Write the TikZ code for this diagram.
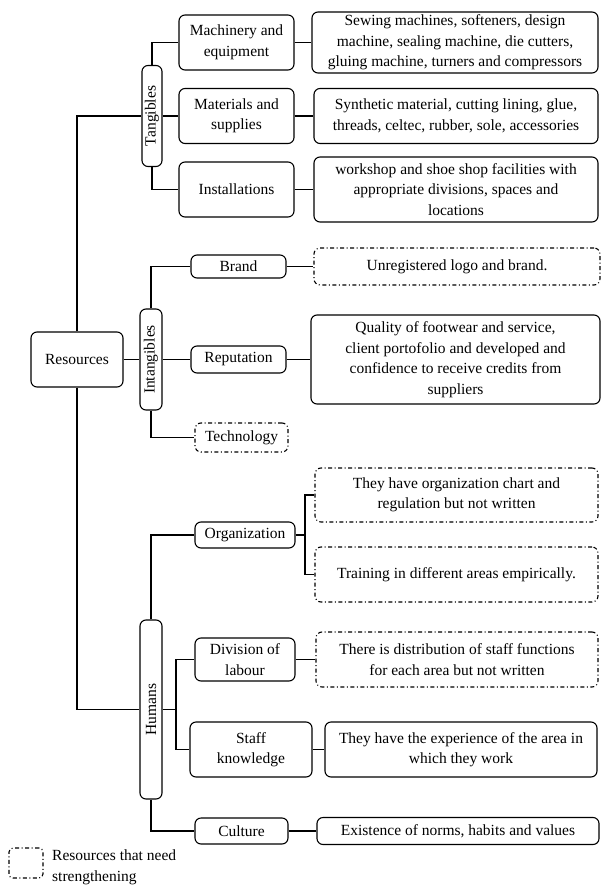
\documentclass[tikz,border=0pt]{standalone}
\usepackage{fontspec}
\setmainfont{Liberation Serif}
\begin{document}
\begin{tikzpicture}[x=1pt,y=-1pt,
  every node/.style={font=\fontsize{15.5}{20.5}\selectfont, inner sep=0pt},
  bx/.style={draw, line width=1.1pt, rounded corners=6pt, align=center},
  dbx/.style={bx, dash pattern=on 4pt off 2.5pt on 1pt off 2.5pt},
  ln/.style={line width=1.1pt}]
\useasboundingbox (0,0) rectangle (601,890);
% root
\node[bx, minimum width=92pt, minimum height=55pt] (res) at (77,359.5) {Resources};
% level 1 boxes
\node[bx, minimum width=20pt, minimum height=101pt] (tang) at (152,116) {};
\node[rotate=90] (tangl) at (tang) {Tangibles};
\node[bx, minimum width=22pt, minimum height=101pt] (intang) at (151,359.5) {};
\node[rotate=90] (intangl) at (intang) {Intangibles};
\node[bx, minimum width=22pt, minimum height=179pt] (hum) at (151,709.5) {};
\node[rotate=90] (huml) at (hum) {Humans};
% tangibles
\node[bx, minimum width=115pt, minimum height=55pt] (mach) at (236.5,42.5) {Machinery and\\equipment};
\node[bx, minimum width=115pt, minimum height=55pt] (mat) at (236.5,116) {Materials and\\supplies};
\node[bx, minimum width=115pt, minimum height=55pt] (inst) at (236.5,189.5) {Installations};
\node[bx, minimum width=286pt, minimum height=61pt] (sew) at (455,42.5) {Sewing machines, softeners, design\\machine, sealing machine, die cutters,\\gluing machine, turners and compressors};
\node[bx, minimum width=284pt, minimum height=55pt] (syn) at (456,116) {Synthetic material, cutting lining, glue,\\threads, celtec, rubber, sole, accessories};
\node[bx, minimum width=284pt, minimum height=65pt] (work) at (456,189.5) {workshop and shoe shop facilities with\\appropriate divisions, spaces and\\locations};
% intangibles
\node[bx, minimum width=95pt, minimum height=23pt] (brand) at (238.5,266.5) {Brand};
\node[bx, minimum width=95pt, minimum height=27pt] (rep) at (238.5,359.5) {Reputation};
\node[dbx, minimum width=93pt, minimum height=29pt] (tech) at (241.5,437.5) {Technology};
\node[dbx, minimum width=286pt, minimum height=37pt] (unreg) at (457,266.5) {Unregistered logo and brand.};
\node[bx, minimum width=289pt, minimum height=89pt] (qual) at (455.5,359.5) {Quality of footwear and service,\\client portofolio and developed and\\confidence to receive credits from\\suppliers};
% humans
\node[bx, minimum width=100pt, minimum height=26pt] (org) at (245,535) {Organization};
\node[dbx, minimum width=283pt, minimum height=54pt] (they) at (456.5,495) {They have organization chart and\\regulation but not written};
\node[dbx, minimum width=283pt, minimum height=55pt] (train) at (456.5,574.5) {Training in different areas empirically.};
\node[bx, minimum width=100pt, minimum height=43pt] (div) at (245,659.5) {Division of\\labour};
\node[dbx, minimum width=282pt, minimum height=55pt] (distr) at (457,659.5) {There is distribution of staff functions\\for each area but not written};
\node[bx, minimum width=122pt, minimum height=55pt] (staff) at (251,749.5) {Staff\\knowledge};
\node[bx, minimum width=272pt, minimum height=55pt] (exp) at (461,749.5) {They have the experience of the area in\\which they work};
\node[bx, minimum width=93pt, minimum height=26pt] (cult) at (241.5,831) {Culture};
\node[bx, minimum width=282pt, minimum height=27pt] (exist) at (458,831) {Existence of norms, habits and values};
% legend
\node[dbx, minimum width=34pt, minimum height=30pt, rounded corners=4pt] (leg) at (26,863) {};
\node[anchor=north west, align=left] (legt) at (52,850) {Resources that need\\strengthening};
% connectors
\draw[ln] (res.north) |- (tang.west);
\draw[ln] (res.south) |- (hum.west);
\draw[ln] (res.east) -- (intang.west);
\draw[ln] (tang.north) |- (mach.west);
\draw[ln] (tang.east) -- (mat.west);
\draw[ln] (tang.south) |- (inst.west);
\draw[ln] (mach.east) -- (sew.west);
\draw[ln] (mat.east) -- (syn.west);
\draw[ln] (inst.east) -- (work.west);
\draw[ln] (intang.north) |- (brand.west);
\draw[ln] (intang.east) -- (rep.west);
\draw[ln] (intang.south) |- (tech.west);
\draw[ln] (brand.east) -- (unreg.west);
\draw[ln] (rep.east) -- (qual.west);
\draw[ln] (hum.north) |- (org.west);
\coordinate (orgj) at (305,535);
\draw[ln] (org.east) -- (orgj);
\draw[ln] (orgj) |- (they.west);
\draw[ln] (orgj) |- (train.west);
\coordinate (humj) at (176,709.5);
\draw[ln] (hum.east) -- (humj);
\draw[ln] (humj) |- (div.west);
\draw[ln] (humj) |- (staff.west);
\draw[ln] (div.east) -- (distr.west);
\draw[ln] (staff.east) -- (exp.west);
\draw[ln] (hum.south) |- (cult.west);
\draw[ln] (cult.east) -- (exist.west);
\end{tikzpicture}
\end{document}
